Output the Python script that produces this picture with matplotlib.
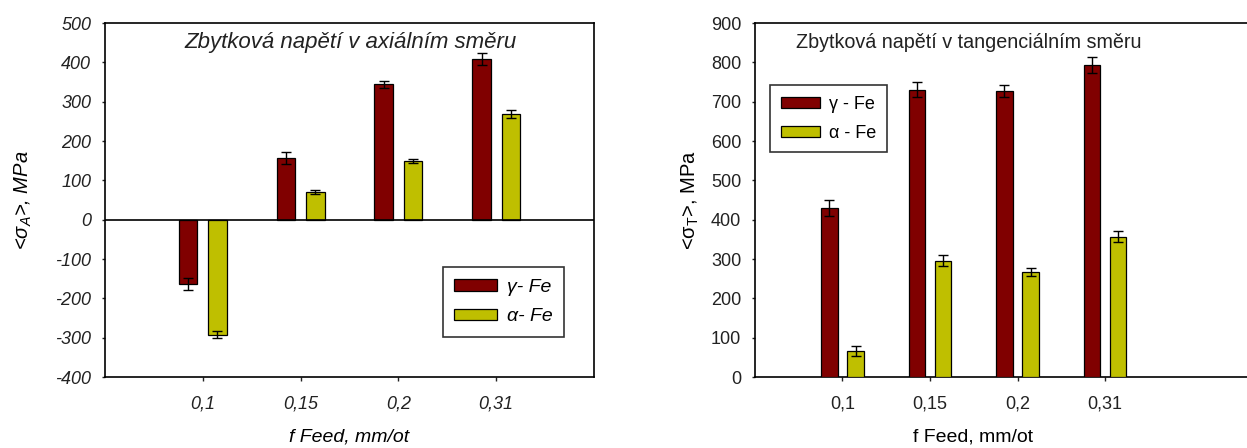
import numpy as np
import matplotlib
matplotlib.use("Agg")
import matplotlib.pyplot as plt

plt.rcParams["font.family"] = ["Liberation Sans", "DejaVu Sans"]
plt.rcParams["mathtext.fontset"] = "custom"
plt.rcParams["mathtext.rm"] = "Liberation Sans"
plt.rcParams["mathtext.it"] = "Liberation Sans:italic"
plt.rcParams["axes.unicode_minus"] = False

# ---- data -------------------------------------------------------------
feeds = ["0,1", "0,15", "0,2", "0,31"]

axial_gamma = [-163, 157, 344, 409]
axial_gamma_err = [15, 16, 9, 16]
axial_alpha = [-292, 70, 150, 268]
axial_alpha_err = [10, 6, 5, 10]

tang_gamma = [430, 730, 727, 793]
tang_gamma_err = [21, 19, 16, 21]
tang_alpha = [67, 295, 267, 357]
tang_alpha_err = [13, 14, 9, 14]

C_GAMMA = "#800000"
C_ALPHA = "#BFBF00"
W = 0.19
OFF = 0.15

W_PX, H_PX = 1247, 448
fig = plt.figure(figsize=(W_PX / 100, H_PX / 100), dpi=100)


def box(l, t, r, b):
    return [l / W_PX, 1 - b / H_PX, (r - l) / W_PX, (b - t) / H_PX]


def bars(ax, g, ge, a, ae, lg, la):
    x = np.arange(1, len(feeds) + 1)
    ekw = dict(ecolor="black", elinewidth=1, capsize=3.5, capthick=1)
    ax.bar(x - OFF, g, W, yerr=ge, color=C_GAMMA, edgecolor="black",
           linewidth=0.9, error_kw=ekw, label=lg, zorder=3)
    ax.bar(x + OFF, a, W, yerr=ae, color=C_ALPHA, edgecolor="black",
           linewidth=0.9, error_kw=ekw, label=la, zorder=3)
    ax.set_xticks(x)
    ax.set_xticklabels(feeds)
    ax.tick_params(axis="both", direction="out", length=3, width=1,
                   labelsize=13, colors="#222222")
    ax.tick_params(axis="y", length=2, pad=8)
    ax.tick_params(axis="x", pad=10)


def legend(ax, fs, **kw):
    leg = ax.legend(fontsize=fs, frameon=True, fancybox=False, edgecolor="black",
                    handlelength=2.2, handleheight=0.55, borderpad=0.6,
                    labelspacing=0.65, handletextpad=0.5, borderaxespad=0, **kw)
    leg.get_frame().set_linewidth(1.2)
    return leg


# ---- left: axial ------------------------------------------------------
ax1 = fig.add_axes(box(105, 23, 594, 377))
bars(ax1, axial_gamma, axial_gamma_err, axial_alpha, axial_alpha_err,
     "γ- Fe", "α- Fe")
ax1.set_xlim(0, 5)
ax1.set_ylim(-400, 500)
ax1.set_yticks(np.arange(-400, 501, 100))
ax1.axhline(0, color="black", lw=1.2, zorder=4)
for s in ax1.spines.values():
    s.set_linewidth(1.2)
for lab in ax1.get_xticklabels() + ax1.get_yticklabels():
    lab.set_fontstyle("italic")
ax1.text(0.503, 0.946, "Zbytková napětí v axiálním směru", transform=ax1.transAxes,
         ha="center", va="center", fontsize=16, style="italic", color="#222222")
ax1.set_ylabel(r"<σ$_{A}$>, MPa", fontsize=14.5, style="italic")
ax1.yaxis.set_label_coords(-0.146, 0.5)
ax1.set_xlabel("f Feed, mm/ot", fontsize=14, style="italic", labelpad=12)
leg1 = legend(ax1, 14, loc="lower right", bbox_to_anchor=(0.939, 0.113))
for t in leg1.get_texts():
    t.set_fontstyle("italic")

# ---- right: tangential ------------------------------------------------
ax2 = fig.add_axes(box(755, 23, 1247, 377))
bars(ax2, tang_gamma, tang_gamma_err, tang_alpha, tang_alpha_err,
     "γ - Fe", "α - Fe")
ax2.set_xlim(0, 492 / 87.5)
ax2.set_ylim(0, 900)
ax2.set_yticks(np.arange(0, 901, 100))
ax2.spines["right"].set_visible(False)
for s in ax2.spines.values():
    s.set_linewidth(1.2)
ax2.text(0.435, 0.945, "Zbytková napětí v tangenciálním směru", transform=ax2.transAxes,
         ha="center", va="center", fontsize=14.2, color="#222222")
ax2.set_ylabel(r"<σ$_{\mathrm{T}}$>, MPa", fontsize=14.5)
ax2.yaxis.set_label_coords(-0.11, 0.5)
ax2.set_xlabel("f Feed, mm/ot", fontsize=14, labelpad=12)
ax2.xaxis.label.set_x(0.443)
legend(ax2, 13, loc="upper left", bbox_to_anchor=(0.03, 0.825))

fig.savefig("out.png", dpi=100)
